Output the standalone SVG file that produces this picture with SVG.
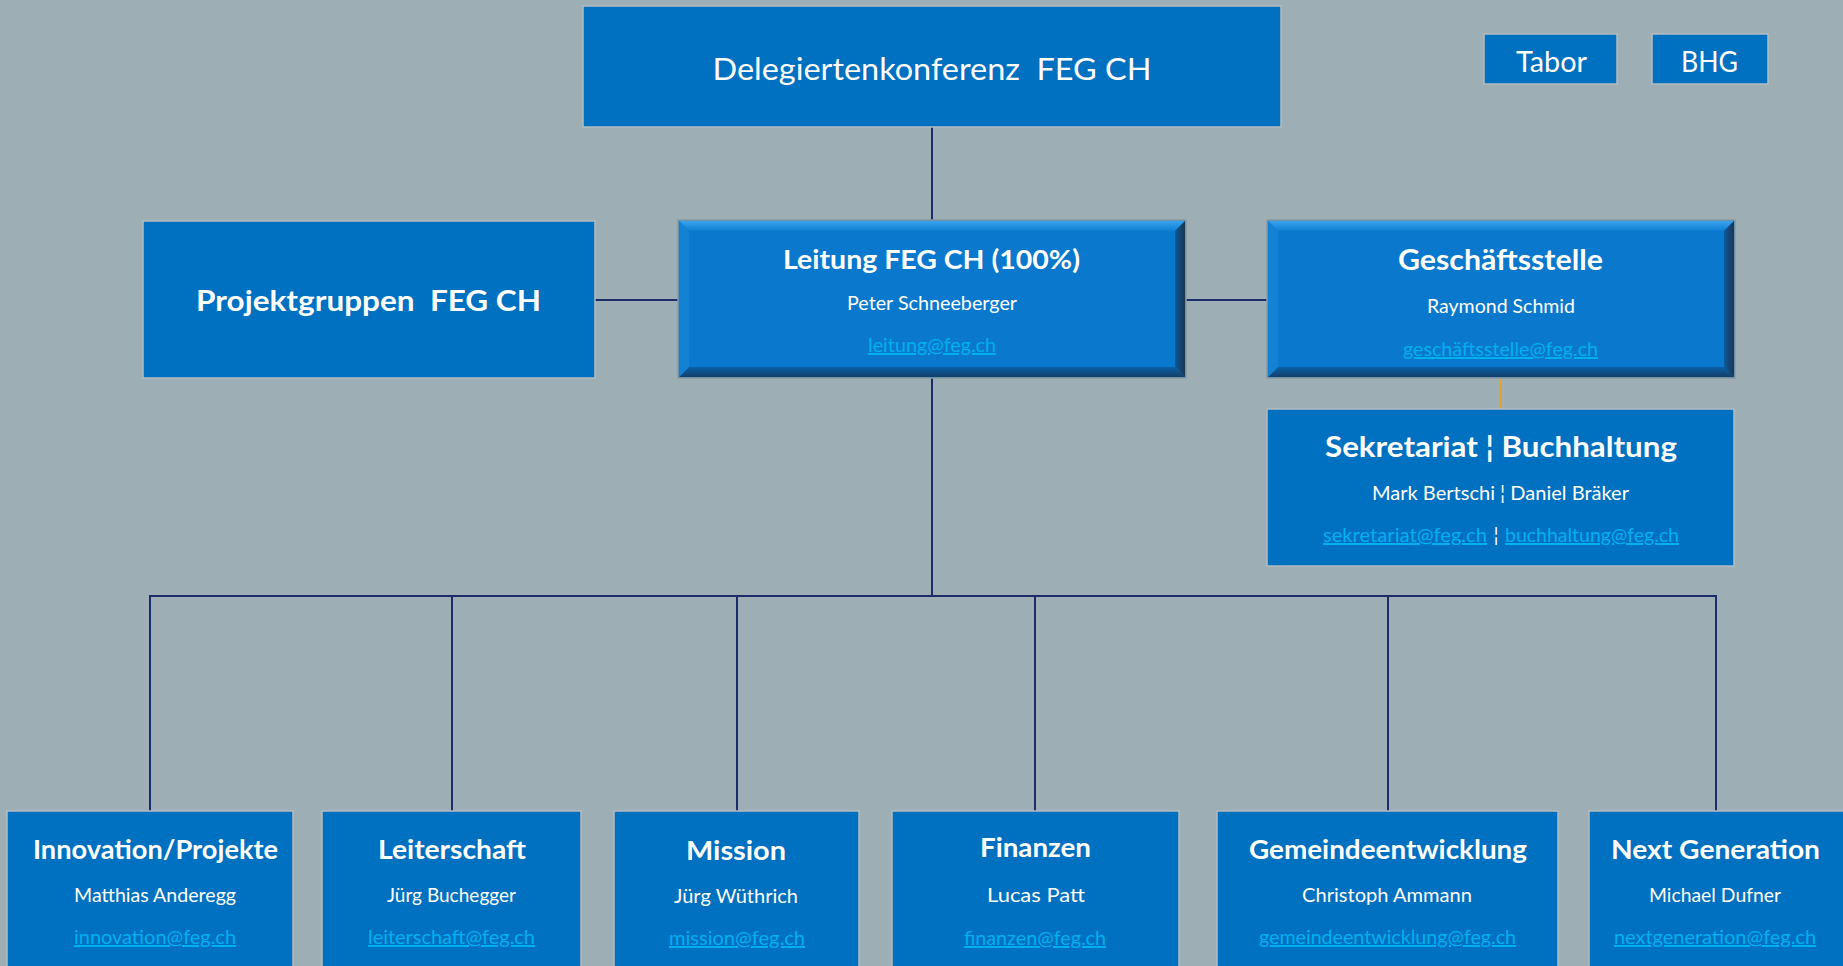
<svg xmlns="http://www.w3.org/2000/svg" width="1843" height="966" viewBox="0 0 1843 966">
<style>
.box{fill:#0070C0;stroke:#B4BCC0;stroke-width:1.5}
.t{font-family:"Lato","Liberation Sans",sans-serif;fill:#FFFFFF;text-anchor:middle}
.b{font-weight:700}
.n{font-size:20px}
.ti{font-size:26px;font-weight:700}
.link{fill:#00B0F0;text-decoration:underline;font-size:20px}
.con{stroke:#1B2C6B;stroke-width:2;fill:none}
.org{stroke:#E5A032;stroke-width:2;fill:none}
.pre{white-space:pre}
</style>
<defs>
<linearGradient id="topBev" x1="0" y1="0" x2="0" y2="1">
<stop offset="0" stop-color="#3AA3EE"/><stop offset="1" stop-color="#0D7FD2"/>
</linearGradient>
<linearGradient id="botBev" x1="0" y1="0" x2="0" y2="1">
<stop offset="0" stop-color="#0A5FA6"/><stop offset="1" stop-color="#143F68"/>
</linearGradient>
<linearGradient id="rBev" x1="0" y1="0" x2="1" y2="0">
<stop offset="0" stop-color="#0B5A9C"/><stop offset="1" stop-color="#1E3550"/>
</linearGradient>
</defs>
<rect x="0" y="0" width="1843" height="966" fill="#9DAFB5"/>

<g id="connectors">
<line class="con" x1="932" y1="127" x2="932" y2="220"/>
<line class="con" x1="595" y1="300" x2="678" y2="300"/>
<line class="con" x1="1186" y1="300" x2="1267" y2="300"/>
<line class="con" x1="932" y1="378" x2="932" y2="596"/>
<polyline class="con" points="150,811 150,596 1716,596 1716,811"/>
<line class="con" x1="452" y1="596" x2="452" y2="811"/>
<line class="con" x1="737" y1="596" x2="737" y2="811"/>
<line class="con" x1="1035" y1="596" x2="1035" y2="811"/>
<line class="con" x1="1388" y1="596" x2="1388" y2="811"/>
<line class="org" x1="1501" y1="379" x2="1501" y2="409"/>
</g>

<g id="delegiertenkonferenz">
<rect class="box" x="583" y="6" width="698" height="121"/>
<text class="t pre" xml:space="preserve" x="932" y="80" font-size="30" textLength="439" lengthAdjust="spacingAndGlyphs">Delegiertenkonferenz  FEG CH</text>
</g>

<g id="tabor">
<rect class="box" x="1484" y="34" width="133" height="50"/>
<text class="t" x="1551.5" y="72" font-size="28" textLength="71" lengthAdjust="spacingAndGlyphs">Tabor</text>
</g>
<g id="bhg">
<rect class="box" x="1652" y="34" width="116" height="50"/>
<text class="t" x="1709.5" y="72" font-size="28" textLength="57" lengthAdjust="spacingAndGlyphs">BHG</text>
</g>

<g id="projektgruppen">
<rect class="box" x="143" y="221" width="452" height="157"/>
<text class="t b pre" xml:space="preserve" x="368.5" y="311" font-size="29" textLength="345" lengthAdjust="spacingAndGlyphs">Projektgruppen  FEG CH</text>
</g>

<g id="leitung">
<rect x="678" y="220" width="508" height="158" fill="#0A78CC" stroke="#8E9AA0" stroke-width="1.5"/>
<polygon points="679,221 1185,221 1175,231 689,231" fill="url(#topBev)"/>
<polygon points="679,377 1185,377 1175,367 689,367" fill="url(#botBev)"/>
<polygon points="1185,221 1185,377 1175,367 1175,231" fill="url(#rBev)"/>
<polygon points="679,221 679,377 689,367 689,231" fill="#1482D4"/>
<text class="t ti" x="931.5" y="269" textLength="297" lengthAdjust="spacingAndGlyphs">Leitung FEG CH (100%)</text>
<text class="t n" x="932" y="310" textLength="170" lengthAdjust="spacingAndGlyphs">Peter Schneeberger</text>
<text class="t link" x="932" y="352" textLength="128" lengthAdjust="spacingAndGlyphs">leitung@feg.ch</text>
</g>

<g id="geschaeftsstelle">
<rect x="1267" y="220" width="468" height="158" fill="#0A78CC" stroke="#8E9AA0" stroke-width="1.5"/>
<polygon points="1268,221 1734,221 1724,231 1278,231" fill="url(#topBev)"/>
<polygon points="1268,377 1734,377 1724,367 1278,367" fill="url(#botBev)"/>
<polygon points="1734,221 1734,377 1724,367 1724,231" fill="url(#rBev)"/>
<polygon points="1268,221 1268,377 1278,367 1278,231" fill="#1482D4"/>
<text class="t b" x="1500.5" y="270" font-size="28" textLength="205" lengthAdjust="spacingAndGlyphs">Geschäftsstelle</text>
<text class="t n" x="1501" y="313" textLength="148" lengthAdjust="spacingAndGlyphs">Raymond Schmid</text>
<text class="t link" x="1500.5" y="356" textLength="195" lengthAdjust="spacingAndGlyphs">geschäftsstelle@feg.ch</text>
</g>

<g id="sekretariat">
<rect class="box" x="1267" y="409" width="467" height="157"/>
<text class="t b" x="1501" y="457" font-size="28" textLength="352" lengthAdjust="spacingAndGlyphs">Sekretariat ¦ Buchhaltung</text>
<text class="t n" x="1500.5" y="500" textLength="257" lengthAdjust="spacingAndGlyphs">Mark Bertschi ¦ Daniel Bräker</text>
<text class="t link" x="1487" y="542" style="text-anchor:end" textLength="164" lengthAdjust="spacingAndGlyphs">sekretariat@feg.ch</text>
<text class="t n" x="1496" y="542">¦</text>
<text class="t link" x="1505" y="542" style="text-anchor:start" textLength="174" lengthAdjust="spacingAndGlyphs">buchhaltung@feg.ch</text>
</g>

<g id="innovation">
<rect class="box" x="7" y="811" width="286" height="170"/>
<text class="t ti" x="155.5" y="859" textLength="245" lengthAdjust="spacingAndGlyphs">Innovation/Projekte</text>
<text class="t n" x="155" y="902" textLength="162" lengthAdjust="spacingAndGlyphs">Matthias Anderegg</text>
<text class="t link" x="155" y="944" textLength="162" lengthAdjust="spacingAndGlyphs">innovation@feg.ch</text>
</g>

<g id="leiterschaft">
<rect class="box" x="322" y="811" width="259" height="170"/>
<text class="t ti" x="452" y="859" textLength="148" lengthAdjust="spacingAndGlyphs">Leiterschaft</text>
<text class="t n" x="451.5" y="902" textLength="129" lengthAdjust="spacingAndGlyphs">Jürg Buchegger</text>
<text class="t link" x="451.5" y="944" textLength="167" lengthAdjust="spacingAndGlyphs">leiterschaft@feg.ch</text>
</g>

<g id="mission">
<rect class="box" x="614" y="811" width="245" height="170"/>
<text class="t ti" x="736" y="860" textLength="100" lengthAdjust="spacingAndGlyphs">Mission</text>
<text class="t n" x="736" y="903" textLength="124" lengthAdjust="spacingAndGlyphs">Jürg Wüthrich</text>
<text class="t link" x="737" y="945" textLength="136" lengthAdjust="spacingAndGlyphs">mission@feg.ch</text>
</g>

<g id="finanzen">
<rect class="box" x="892" y="811" width="287" height="170"/>
<text class="t ti" x="1035.5" y="857" textLength="111" lengthAdjust="spacingAndGlyphs">Finanzen</text>
<text class="t n" x="1036" y="902" font-size="21" textLength="98" lengthAdjust="spacingAndGlyphs">Lucas Patt</text>
<text class="t link" x="1035" y="945" textLength="142" lengthAdjust="spacingAndGlyphs">finanzen@feg.ch</text>
</g>

<g id="gemeindeentwicklung">
<rect class="box" x="1217" y="811" width="341" height="170"/>
<text class="t ti" x="1388" y="859" textLength="278" lengthAdjust="spacingAndGlyphs">Gemeindeentwicklung</text>
<text class="t n" x="1387" y="902" textLength="170" lengthAdjust="spacingAndGlyphs">Christoph Ammann</text>
<text class="t link" x="1387.5" y="944" textLength="257" lengthAdjust="spacingAndGlyphs">gemeindeentwicklung@feg.ch</text>
</g>

<g id="nextgeneration">
<rect class="box" x="1589" y="811" width="260" height="170"/>
<text class="t ti" x="1715.5" y="859" textLength="209" lengthAdjust="spacingAndGlyphs">Next Generation</text>
<text class="t n" x="1715" y="902" textLength="132" lengthAdjust="spacingAndGlyphs">Michael Dufner</text>
<text class="t link" x="1715" y="944" textLength="202" lengthAdjust="spacingAndGlyphs">nextgeneration@feg.ch</text>
</g>
</svg>
